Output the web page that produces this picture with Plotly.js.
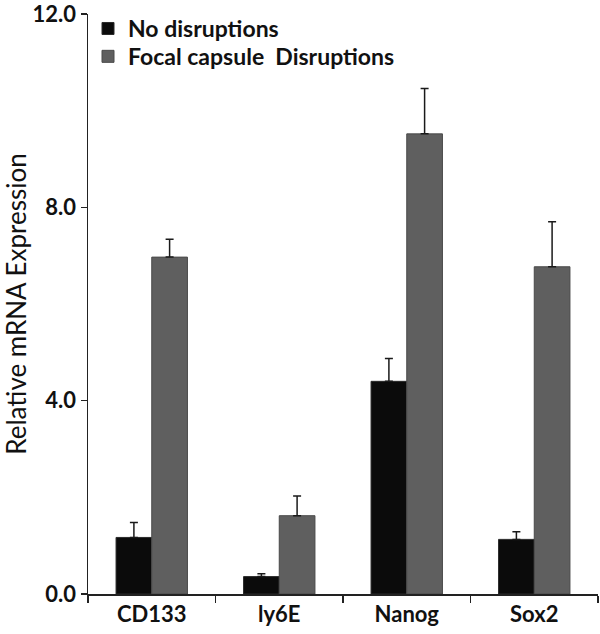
<!DOCTYPE html>
<html><head><meta charset="utf-8">
<script src="https://cdn.plot.ly/plotly-3.0.1.min.js"></script>
<style>html,body{margin:0;padding:0;background:#fff}</style>
</head><body>
<div id="chart" style="width:600px;height:634px"></div>
<script>
const categories = ["CD133", "ly6E", "Nanog", "Sox2"];
const noDisruptions = [1.17, 0.36, 4.40, 1.13];
const noDisruptionsErr = [0.31, 0.06, 0.47, 0.16];
const focalDisruptions = [6.97, 1.62, 9.52, 6.77];
const focalDisruptionsErr = [0.37, 0.41, 0.94, 0.93];
const seriesNames = ["No disruptions", "Focal capsule  Disruptions"];
const yTicks = [0, 4, 8, 12];
const yTickText = ["0.0", "4.0", "8.0", "12.0"];

const fontFam = "Lato, 'Open Sans', 'DejaVu Sans', sans-serif";
const legFont = {size: 23, family: fontFam, weight: "bold", color: "#111"};
const traces = [
  {type: "bar", name: seriesNames[0], x: categories, y: noDisruptions, legend: "legend",
   marker: {color: "#0b0b0b", line: {color: "#2a2a2a", width: 1}},
   error_y: {type: "data", array: noDisruptionsErr, symmetric: false, arrayminus: [0,0,0,0], color: "#1a1a1a", thickness: 1.5, width: 4}},
  {type: "bar", name: seriesNames[1], x: categories, y: focalDisruptions, legend: "legend2",
   marker: {color: "#5f5f5f", line: {color: "#4a4a4a", width: 1}},
   error_y: {type: "data", array: focalDisruptionsErr, symmetric: false, arrayminus: [0,0,0,0], color: "#1a1a1a", thickness: 1.5, width: 4}}
];
const layout = {
  width: 600, height: 634,
  margin: {l: 88, r: 2, t: 14, b: 40},
  paper_bgcolor: "#fff", plot_bgcolor: "#fff",
  barmode: "group", bargap: 0.44, bargroupgap: 0,
  font: {family: fontFam, color: "#111"},
  showlegend: true,
  legend: {x: 0, y: 1.012, xanchor: "left", yanchor: "top", bgcolor: "rgba(0,0,0,0)",
           font: legFont, itemwidth: 30},
  legend2: {x: 0, y: 0.964, xanchor: "left", yanchor: "top", bgcolor: "rgba(0,0,0,0)",
           font: legFont, itemwidth: 30},
  xaxis: {type: "category", showline: true, linecolor: "#222", linewidth: 1.5,
          ticks: "outside", tickson: "boundaries", ticklen: 7, tickcolor: "#222", tickwidth: 1.5,
          tickfont: {size: 22, family: fontFam, weight: "bold", color: "#111"}, showgrid: false, zeroline: false},
  yaxis: {range: [0, 12], showline: true, linecolor: "#222", linewidth: 1.5,
          ticks: "outside", ticklen: 6, tickcolor: "#222", tickwidth: 1.5,
          tickvals: yTicks, ticktext: yTickText, ticklabeloverflow: "allow",
          tickfont: {size: 22, family: fontFam, weight: "bold", color: "#111"},
          showgrid: false, zeroline: false,
          title: {text: "Relative mRNA Expression", font: {size: 26, family: fontFam, color: "#111"}, standoff: 22}}
};
Plotly.newPlot("chart", traces, layout, {displayModeBar: false, staticPlot: true});
</script>
</body></html>
